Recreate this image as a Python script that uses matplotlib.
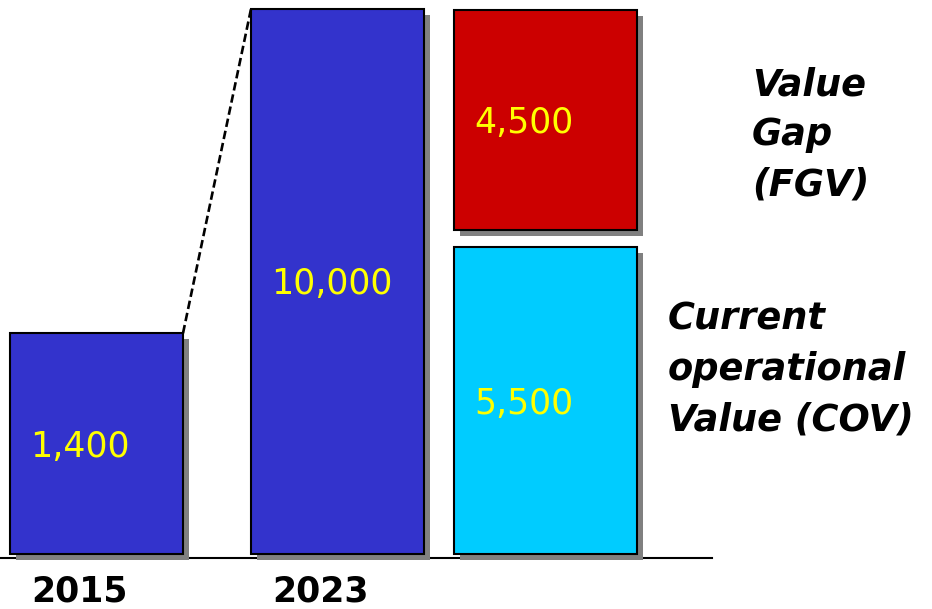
import matplotlib
matplotlib.use("Agg")
import matplotlib.pyplot as plt

# bars by year: printed value and drawn height (2015 is not to scale in the original)
years = ["2015", "2023"]
year_values = [1400, 10000]
year_heights = [4050, 10000]

# split of the 2023 value, bottom to top
parts = ["Current\noperational\nValue (COV)", "Value\nGap\n(FGV)"]
part_values = [5500, 4500]
part_heights = [5630, 4040]
part_gap = 310

BLUE = "#3333CC"
CYAN = "#00CCFF"
RED = "#CC0000"
SHADOW = "#808080"
LABEL = "#FFFF00"

PX = 10000 / 545  # value units per pixel on the y axis
SH = 6            # shadow offset, pixels


def draw_bar(ax, x0, width, bottom, height, color):
    ax.bar(x0 + SH, height, width, bottom=bottom - SH * PX, align="edge",
           color=SHADOW, linewidth=0, zorder=2)
    ax.bar(x0, height, width, bottom=bottom, align="edge",
           color=color, edgecolor="black", linewidth=1.5, zorder=3)


def value_label(ax, x0, bottom, height, value):
    ax.text(x0 + 20, bottom + height / 2 - 13 * PX, f"{value:,}", color=LABEL,
            fontsize=25, va="baseline", ha="left", zorder=5)


fig = plt.figure(figsize=(9.32, 6.09), dpi=100)
ax = fig.add_axes([0, 0, 1, 1])
ax.set_xlim(0, 932)
ax.set_ylim(-55 * PX, 554 * PX)
ax.axis("off")

# baseline
ax.plot([0, 712], [-4 * PX, -4 * PX], color="black", linewidth=1.5, zorder=1)

# year bars
year_left = [10, 251]
width = 173
for x0, yr, v, h in zip(year_left, years, year_values, year_heights):
    draw_bar(ax, x0, width, 0, h, BLUE)
    value_label(ax, x0, 0, h, v)
    ax.text(x0 + 21, -21 * PX, yr, fontsize=25, fontweight="bold",
            va="top", ha="left")

# dashed growth line between the two year bars
ax.plot([year_left[0] + width, year_left[1]], [year_heights[0], year_heights[1]],
        color="black", linewidth=1.9, linestyle=(0, (3.2, 1.5)), zorder=4)

# stacked split bar
x3 = 454
w3 = 183
bottom = 0
for color, v, h in zip([CYAN, RED], part_values, part_heights):
    draw_bar(ax, x3, w3, bottom, h, color)
    value_label(ax, x3, bottom, h, v)
    bottom += h + part_gap

# side annotations
note_style = dict(fontsize=26.5, fontweight="bold", fontstyle="italic",
                  va="top", ha="left", linespacing=1.45)
ax.text(668, (554 - 301) * PX, parts[0], **note_style)
ax.text(752, (554 - 66) * PX, parts[1], **note_style)

fig.savefig("out.png", dpi=100)
